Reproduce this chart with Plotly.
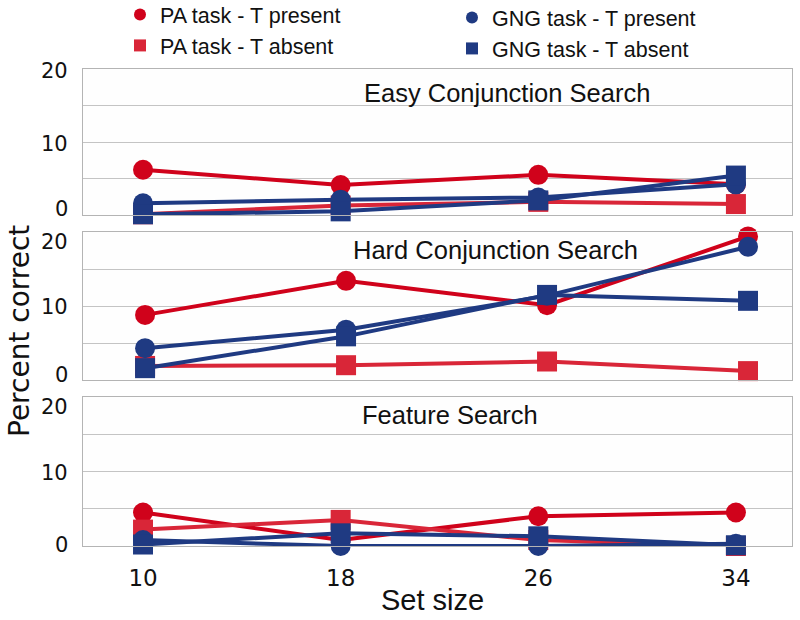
import plotly.graph_objects as go

set_size = [10, 18, 26, 34]

panels = ['Easy Conjunction Search', 'Hard Conjunction Search', 'Feature Search']

# percent correct per panel: easy, hard, feature
pa_present = [[6.2, 4.1, 5.5, 4.2], [8.8, 13.4, 10.1, 19.4], [4.5, 0.8, 4.0, 4.5]]
pa_absent = [[0.1, 1.3, 1.8, 1.5], [1.9, 2.0, 2.5, 1.2], [2.2, 3.5, 0.8, 0.0]]
gng_present = [[1.6, 2.1, 2.4, 4.2], [4.3, 6.8, 11.4, 18.0], [0.8, 0.0, 0.0, 0.3]]
gng_absent = [[0.1, 0.5, 2.0, 5.4], [1.6, 5.9, 11.5, 10.7], [0.2, 1.7, 1.3, 0.1]]

y_ticks = [0, 10, 20]

RED = '#D0021B'
RED2 = '#D92638'
BLUE = '#1F3A82'

series = [
    ('PA task - T present', pa_present, RED, 'circle', 'legend'),
    ('PA task - T absent', pa_absent, RED2, 'square', 'legend'),
    ('GNG task - T present', gng_present, BLUE, 'circle', 'legend2'),
    ('GNG task - T absent', gng_absent, BLUE, 'square', 'legend2'),
]

W, H = 800, 620


def px(x):
    return x / W


def py(y):
    return 1 - y / H


x0, x1 = px(83), px(792)
doms = [(py(215), py(69)), (py(380), py(232)), (py(546), py(397))]
xranges = [[7.57, 36.27], [7.53, 35.75], [7.57, 36.27]]
# label nudges (px) for 0, 10, 20 in each panel
nudges = [[6, -2, -2], [5.5, -1, -9.5], [1, -1, -9.5]]

fig = go.Figure()

for p in range(3):
    xa = 'x' if p == 0 else 'x%d' % (p + 1)
    ya = 'y' if p == 0 else 'y%d' % (p + 1)
    for name, vals, col, sym, lg in series:
        fig.add_trace(go.Scatter(
            x=set_size, y=vals[p], mode='lines+markers', name=name,
            line=dict(color=col, width=4),
            marker=dict(color=col, symbol=sym, size=20),
            xaxis=xa, yaxis=ya, showlegend=False, cliponaxis=False))

# legend-only entries (markers without lines)
for name, vals, col, sym, lg in series:
    fig.add_trace(go.Scatter(
        x=[None], y=[None], mode='markers', name=name, legend=lg,
        marker=dict(color=col, symbol=sym, size=12)))

axis_font = 'DejaVu Sans'
for p in range(3):
    sfx = '' if p == 0 else str(p + 1)
    fig.layout['xaxis' + sfx] = dict(
        domain=[x0, x1], range=xranges[p], anchor='y' + sfx,
        tickvals=set_size, showticklabels=(p == 2), showgrid=False,
        zeroline=False, showline=True, linecolor='#b4b4b4', mirror=True,
        ticks='', ticklabelstandoff=11,
        tickfont=dict(family=axis_font, size=23, color='#111'))
    fig.layout['yaxis' + sfx] = dict(
        domain=list(doms[p]), range=[0, 20], anchor='x' + sfx,
        dtick=5, showticklabels=False, gridcolor='#c4c4c4', gridwidth=1,
        zeroline=False, showline=True, linecolor='#b4b4b4', mirror=True)
    for t, v in enumerate(y_ticks):
        fig.add_annotation(
            text=str(v), xref='paper', yref='y' + sfx, x=px(70), y=v,
            xanchor='right', yanchor='middle', showarrow=False, yshift=nudges[p][t],
            font=dict(family=axis_font, size=21, color='#111'))

title_pos = [(507, 93), (495, 250), (450, 415)]
for name, (tx, ty) in zip(panels, title_pos):
    fig.add_annotation(
        text=name, xref='paper', yref='paper', x=px(tx), y=py(ty),
        xanchor='center', yanchor='middle', showarrow=False,
        font=dict(family='Liberation Sans', size=25.5, color='#111'))

fig.add_annotation(
    text='Set size', xref='paper', yref='paper', x=px(432), y=py(600),
    xanchor='center', yanchor='middle', showarrow=False,
    font=dict(family='Liberation Sans', size=29, color='#111'))
fig.add_annotation(
    text='Percent correct', xref='paper', yref='paper', x=px(20), y=py(331),
    xanchor='center', yanchor='middle', showarrow=False, textangle=-90,
    font=dict(family=axis_font, size=28, color='#111'))

leg_font = dict(family='Liberation Sans', size=21.5, color='#111')
fig.update_layout(
    width=W, height=H,
    margin=dict(l=0, r=0, t=0, b=0, autoexpand=False),
    paper_bgcolor='white', plot_bgcolor='#fefefe',
    legend=dict(x=px(120), y=py(-6), xanchor='left', yanchor='top',
                font=leg_font, bgcolor='rgba(0,0,0,0)', tracegroupgap=0),
    legend2=dict(x=px(452), y=py(-3), xanchor='left', yanchor='top',
                 font=leg_font, bgcolor='rgba(0,0,0,0)', tracegroupgap=0),
)

# drop the page's default body margin so the figure sits at the corner
fig.write_html('out.html', config={'displayModeBar': False},
               post_script="document.body.style.margin='0';")
